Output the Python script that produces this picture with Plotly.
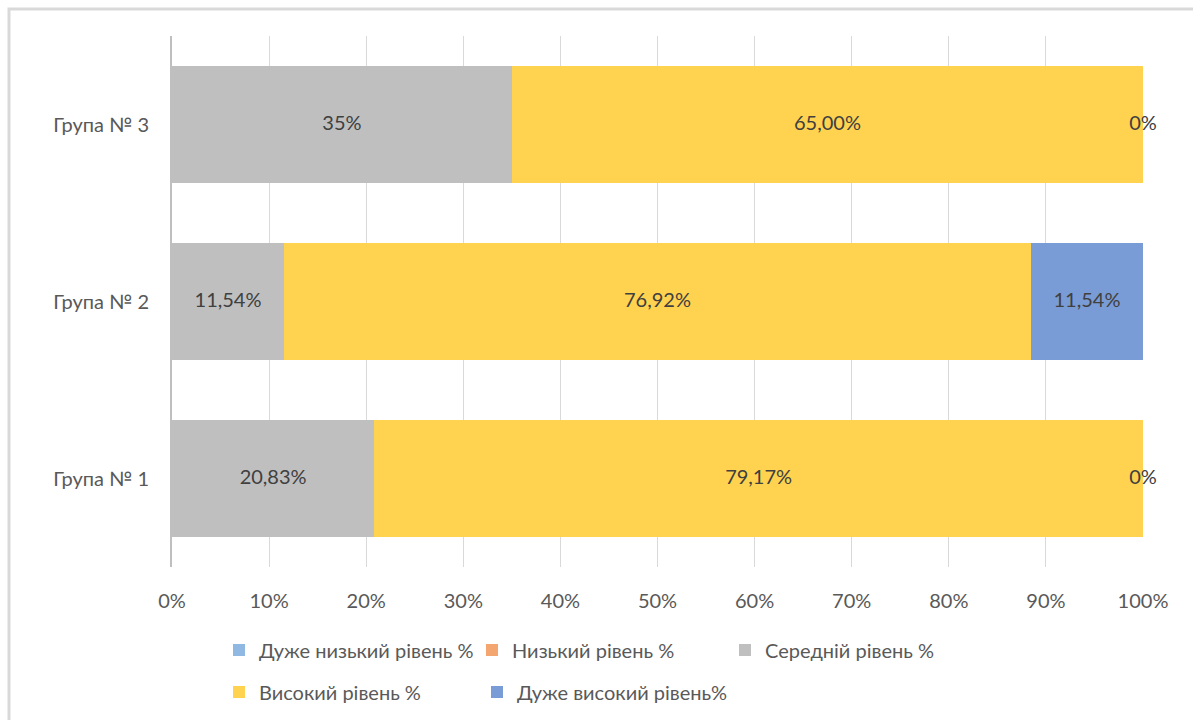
import plotly.graph_objects as go

groups = ["Група № 1", "Група № 2", "Група № 3"]
series_names = ["Дуже низький рівень %", "Низький рівень %", "Середній рівень %",
                "Високий рівень %", "Дуже високий рівень%"]
very_low = [0, 0, 0]
low = [0, 0, 0]
medium = [20.83, 11.54, 35.0]
high = [79.17, 76.92, 65.0]
very_high = [0, 11.54, 0]
colors = ["#8FB9E3", "#F4A671", "#BFBFBF", "#FFD34F", "#7A9CD6"]
medium_labels = ["20,83%", "11,54%", "35%"]
high_labels = ["79,17%", "76,92%", "65,00%"]
very_high_labels = ["0%", "11,54%", "0%"]
x_ticks = [0, 10, 20, 30, 40, 50, 60, 70, 80, 90, 100]
x_tick_text = [f"{v}%" for v in x_ticks]

FONT = "Lato, 'Noto Sans', sans-serif"
FS = 20
all_series = [very_low, low, medium, high, very_high]
legend_ids = ["legend", "legend", "legend", "legend2", "legend2"]

fig = go.Figure()
for name, vals, col, lg in zip(series_names, all_series, colors, legend_ids):
    fig.add_trace(go.Bar(
        y=groups, x=vals, name=name, orientation="h",
        marker=dict(color=col, line=dict(width=0)),
        legend=lg, hoverinfo="x+name",
    ))

# data labels at segment centres
cum = [0, 0, 0]
label_sets = [None, None, medium_labels, high_labels, very_high_labels]
for vals, labels in zip(all_series, label_sets):
    mids = [c + v / 2 for c, v in zip(cum, vals)]
    cum = [c + v for c, v in zip(cum, vals)]
    if labels is None:
        continue
    fig.add_trace(go.Scatter(
        x=mids, y=groups, mode="text", text=labels,
        textfont=dict(family=FONT, size=FS, color="#404040"),
        showlegend=False, cliponaxis=False, hoverinfo="skip",
    ))

L, R, T, B = 172, 50, 36, 153
pw = 1193 - L - R
ph = 720 - T - B

legend_common = dict(orientation="h", xanchor="left", yanchor="middle",
                     entrywidthmode="pixels",
                     font=dict(family=FONT, size=FS, color="#595959"),
                     bgcolor="rgba(0,0,0,0)", traceorder="normal")

fig.update_layout(
    width=1193, height=720,
    barmode="stack", bargap=0.34,
    margin=dict(l=L, r=R, t=T, b=B, autoexpand=False),
    paper_bgcolor="white", plot_bgcolor="white",
    font=dict(family=FONT, size=FS, color="#595959"),
    xaxis=dict(range=[0, 100], tickvals=x_ticks, ticktext=x_tick_text,
               showgrid=True, gridcolor="#D9D9D9", gridwidth=1,
               zeroline=False, showline=False, ticks="",
               ticklabelstandoff=20, fixedrange=True),
    yaxis=dict(showgrid=False, showline=True, linecolor="#BFBFBF", linewidth=2,
               ticks="", ticklabelstandoff=17, zeroline=False,
               categoryorder="array", categoryarray=groups),
    legend=dict(x=(219 - L) / pw, y=-(650 - 567) / ph, entrywidth=208,
                **legend_common),
    legend2=dict(x=(219 - L) / pw, y=-(692 - 567) / ph, entrywidth=213,
                 **legend_common),
    shapes=[dict(type="rect", xref="paper", yref="paper",
                 x0=(9 - L) / pw, x1=(1210 - L) / pw,
                 y0=-(740 - 567) / ph, y1=(567 - 9) / ph,
                 line=dict(color="#D9D9D9", width=3), fillcolor="rgba(0,0,0,0)",
                 layer="below")],
    showlegend=True,
)

fig.write_html("out.html")
